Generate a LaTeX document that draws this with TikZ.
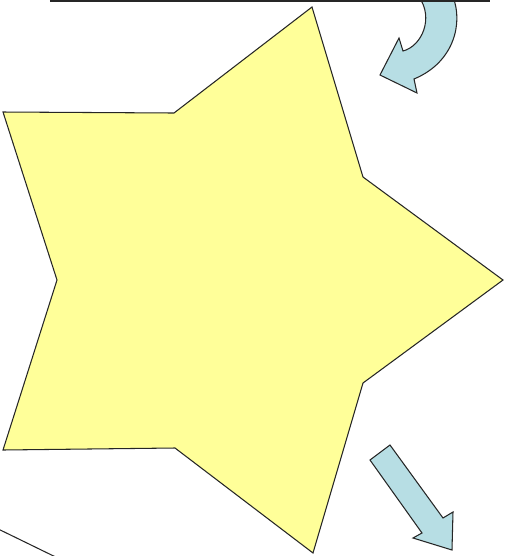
\documentclass[tikz,border=0pt]{standalone}
\usepackage{tikz}
\definecolor{staryellow}{RGB}{255,255,153}
\definecolor{arrowblue}{RGB}{183,222,228}

\begin{document}
\begin{tikzpicture}[x=0.02cm,y=-0.02cm,
  outline/.style={draw=black!85,line width=0.6pt,line join=miter}]
\useasboundingbox (0,0) rectangle (507,556);
\clip (0,0) rectangle (507,556);
% six-pointed star
\filldraw[outline,fill=staryellow] (312,7) -- (363,177) -- (503,280) -- (363,383)
  -- (313,553) -- (175,448) -- (3,450) -- (57,280) -- (3,112) -- (174,113) -- cycle;
% curved arrow, top right
\filldraw[outline,fill=arrowblue] (453,-3) .. controls (463,22) and (455,62) .. (414,79)
  -- (417,93) -- (380,75) -- (399,38) -- (403,51)
  .. controls (422,46) and (434,18) .. (419,-3) -- cycle;
% straight arrow, bottom right
\filldraw[outline,fill=arrowblue] (370,460) -- (390,445) -- (443,518) -- (453,512)
  -- (452,550) -- (413,538) -- (422,533) -- cycle;
% lines at the edges
\draw[outline] (50,1) -- (490,1);
\draw[outline] (-10,525) -- (70,564);
\end{tikzpicture}
\end{document}
